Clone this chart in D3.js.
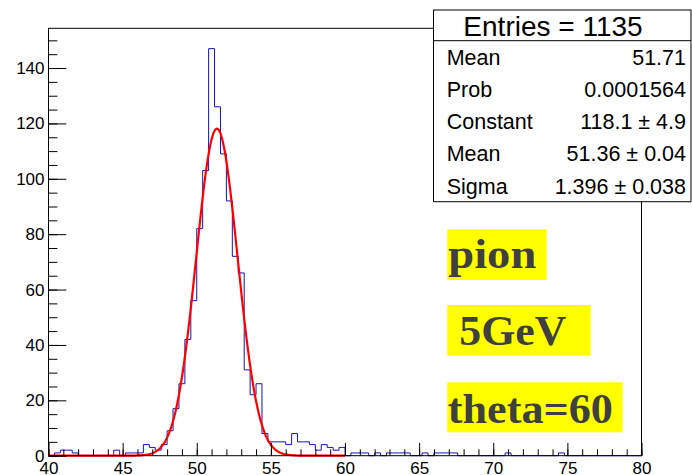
<!DOCTYPE html>
<html>
<head>
<meta charset="utf-8">
<script src="https://cdn.jsdelivr.net/npm/d3@7"></script>
<style>
  html, body { margin: 0; padding: 0; background: #ffffff; }
  svg { display: block; }
  .tick text { font-family: "Liberation Sans", Arial, Helvetica, sans-serif; }
</style>
</head>
<body>
<svg id="chart" width="692" height="475"></svg>
<script>
// Histogram: 100 bins of width 0.4 between 40 and 80
const binLow = 40;
const binWidth = 0.4;
const counts = [
  0, 1, 2, 2, 1, 0, 0, 0, 0, 0,
  0, 2, 0, 1, 1, 1, 4, 3, 2, 4,
  9, 17, 26, 42, 56, 82, 103, 147, 126, 109,
  92, 72, 66, 31, 22, 26, 8, 5, 5, 5,
  4, 8, 5, 5, 4, 2, 4, 3, 2, 3,
  0, 1, 1, 1, 0, 1, 0, 1, 1, 1,
  1, 0, 0, 1, 0, 1, 1, 1, 1, 0,
  0, 0, 0, 0, 0, 0, 0, 1, 0, 0,
  0, 0, 0, 0, 0, 0, 1, 0, 0, 0,
  0, 0, 0, 0, 0, 0, 0, 0, 0, 0
];

// Gaussian fit parameters and fit range
const fitConstant = 118.1;
const fitMean = 51.36;
const fitSigma = 1.396;
const fitRange = [40, 60];

// Axis ticks
const xMajorTicks = [40, 45, 50, 55, 60, 65, 70, 75, 80];
const xMinorTicks = d3.range(40, 81, 1);
const yMajorTicks = [0, 20, 40, 60, 80, 100, 120, 140];
const yMinorTicks = d3.range(0, 151, 5);

// Statistics box rows
const statsTitle = "Entries = 1135";
const statsLabels = ["Mean", "Prob", "Constant", "Mean", "Sigma"];
const statsValues = ["51.71", "0.0001564", "118.1 \u00b1 4.9", "51.36 \u00b1 0.04", "1.396 \u00b1 0.038"];

// Text labels
const tagTexts = ["pion", "\u00a05GeV", "theta=60"];

const svg = d3.select("#chart");
const frame = { left: 48.5, right: 641.5, top: 28.3, bottom: 455.7 };
const yMax = d3.max(counts) * 1.05;

const x = d3.scaleLinear().domain([40, 80]).range([frame.left, frame.right]);
const y = d3.scaleLinear().domain([0, yMax]).range([frame.bottom, frame.top]);

// histogram step outline
const stepPts = [];
counts.forEach((c, i) => {
  const x0 = binLow + i * binWidth, x1 = x0 + binWidth;
  stepPts.push([x0, c], [x1, c]);
});
const stepLine = d3.line().x(d => x(d[0])).y(d => y(d[1]));
svg.append("path")
  .attr("d", stepLine(stepPts))
  .attr("fill", "none")
  .attr("stroke", "#1414b4")
  .attr("stroke-width", 1);

// fitted gaussian
const gauss = v => fitConstant * Math.exp(-0.5 * Math.pow((v - fitMean) / fitSigma, 2));
const fitPts = d3.range(0, 401).map(k => {
  const v = fitRange[0] + (fitRange[1] - fitRange[0]) * k / 400;
  return [v, gauss(v)];
});
svg.append("path")
  .attr("d", d3.line().x(d => x(d[0])).y(d => y(d[1]))(fitPts))
  .attr("fill", "none")
  .attr("stroke", "#ff0000")
  .attr("stroke-width", 2.2)
  .attr("stroke-linejoin", "round");

// frame
const frameG = svg.append("g").attr("stroke", "#000").attr("stroke-width", 1).attr("fill", "none");
frameG.append("rect")
  .attr("x", frame.left).attr("y", frame.top)
  .attr("width", frame.right - frame.left)
  .attr("height", frame.bottom - frame.top);

// x axis: ticks pointing up into the frame
const xLen = (frame.bottom - frame.top) * 0.03;
svg.append("g").attr("transform", `translate(0,${frame.bottom})`)
  .call(d3.axisBottom(x).tickValues(xMinorTicks).tickSize(-xLen / 2).tickFormat(""))
  .call(g => g.select(".domain").remove());
svg.append("g").attr("transform", `translate(0,${frame.bottom})`)
  .call(d3.axisBottom(x).tickValues(xMajorTicks).tickSize(-xLen).tickPadding(6).tickFormat(d3.format("d")))
  .call(g => g.select(".domain").remove())
  .call(g => g.selectAll("text").attr("font-size", 17).attr("fill", "#000"));

// y axis: ticks pointing right into the frame
const yLen = (frame.right - frame.left) * 0.03;
svg.append("g").attr("transform", `translate(${frame.left},0)`)
  .call(d3.axisLeft(y).tickValues(yMinorTicks).tickSize(-yLen / 2).tickFormat(""))
  .call(g => g.select(".domain").remove());
svg.append("g").attr("transform", `translate(${frame.left},0)`)
  .call(d3.axisLeft(y).tickValues(yMajorTicks).tickSize(-yLen).tickPadding(4).tickFormat(d3.format("d")))
  .call(g => g.select(".domain").remove())
  .call(g => g.selectAll("text").attr("font-size", 17).attr("fill", "#000"));

// statistics box
const box = { x0: 433.5, x1: 691, y0: 10, yHead: 40.7, y1: 201.7 };
const statsG = svg.append("g");
statsG.append("rect")
  .attr("x", box.x0).attr("y", box.y0)
  .attr("width", box.x1 - box.x0).attr("height", box.y1 - box.y0)
  .attr("fill", "#fff").attr("stroke", "#000").attr("stroke-width", 1);
statsG.append("line")
  .attr("x1", box.x0).attr("x2", box.x1)
  .attr("y1", box.yHead).attr("y2", box.yHead)
  .attr("stroke", "#000").attr("stroke-width", 1);
statsG.append("text")
  .attr("x", 553).attr("y", 35.5)
  .attr("text-anchor", "middle")
  .attr("font-family", "Liberation Sans, Arial, sans-serif")
  .attr("font-size", 28)
  .text(statsTitle);
const rowH = (box.y1 - box.yHead) / statsLabels.length;
statsLabels.forEach((lab, i) => {
  const base = box.yHead + rowH * (i + 0.5) + 8;
  statsG.append("text")
    .attr("x", 446.7).attr("y", base)
    .attr("font-family", "Liberation Sans, Arial, sans-serif")
    .attr("font-size", 21.5)
    .text(lab);
  statsG.append("text")
    .attr("x", 686).attr("y", base)
    .attr("text-anchor", "end")
    .attr("font-family", "Liberation Sans, Arial, sans-serif")
    .attr("font-size", 21.5)
    .text(statsValues[i]);
});

// highlighted labels
const tagBoxes = [
  { x: 447.3, y: 229.3, w: 99.4, h: 50.7, base: 268.3, tx: 448.3, tw: 88 },
  { x: 447.3, y: 305, w: 143.4, h: 50.7, base: 345, tx: 448.3, tw: 118 },
  { x: 447.3, y: 382.3, w: 175.4, h: 50, base: 423.3, tx: 447.8, tw: 165 }
];
tagTexts.forEach((t, i) => {
  const b = tagBoxes[i];
  svg.append("rect")
    .attr("x", b.x).attr("y", b.y).attr("width", b.w).attr("height", b.h)
    .attr("fill", "#ffff00");
  svg.append("text")
    .attr("x", b.tx).attr("y", b.base)
    .attr("font-family", "Liberation Serif, Times New Roman, serif")
    .attr("font-weight", "bold")
    .attr("font-size", 42)
    .attr("fill", "#3f3f3f")
    .attr("textLength", b.tw)
    .attr("lengthAdjust", "spacingAndGlyphs")
    .text(t);
});
</script>
</body>
</html>
